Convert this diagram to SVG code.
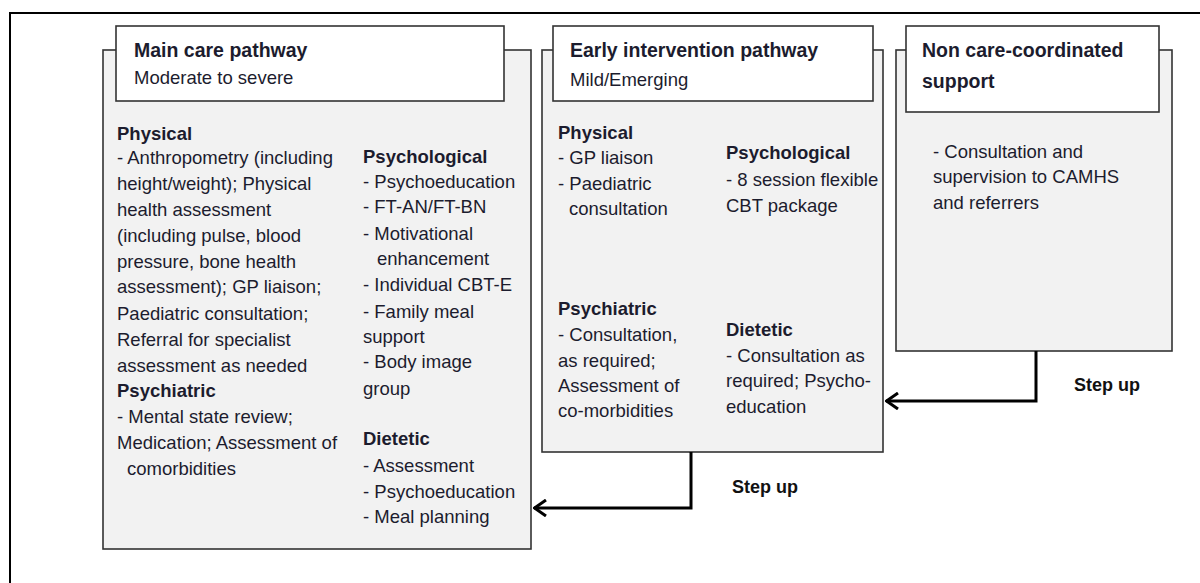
<svg xmlns="http://www.w3.org/2000/svg" width="1200" height="583" viewBox="0 0 1200 583">
<defs>
<style>
.frame{fill:none;stroke:#000;stroke-width:2}
.box{fill:#f2f2f2;stroke:#333;stroke-width:1.6}
.title{fill:#fff;stroke:#333;stroke-width:1.6}
text{font-family:"Liberation Sans",Arial,sans-serif;font-size:18.5px;fill:#1c1c2e}
.b{font-weight:bold}
.t{font-weight:bold;font-size:19.5px}
.s{font-weight:bold;font-size:18px;fill:#111}
.conn{fill:none;stroke:#000;stroke-width:3}
</style>
<marker id="arr" viewBox="0 0 14 18" refX="13" refY="9" markerWidth="14" markerHeight="18" markerUnits="userSpaceOnUse" orient="auto">
<path d="M1,1 L12.5,9 L1,17" fill="none" stroke="#000" stroke-width="3"/>
</marker>
</defs>
<rect width="1200" height="583" fill="#fff"/>
<rect class="frame" x="10" y="13" width="1220" height="600"/>

<g id="main">
<rect class="box" x="103" y="50" width="428" height="499"/>
<rect class="title" x="116" y="26" width="388" height="75"/>
<text class="t" x="134" y="57">Main care pathway</text>
<text x="134" y="84">Moderate to severe</text>
<text class="b" x="117" y="140">Physical</text>
<text x="117" y="164">- Anthropometry (including</text>
<text x="117" y="190">height/weight); Physical</text>
<text x="117" y="216">health assessment</text>
<text x="117" y="242">(including pulse, blood</text>
<text x="117" y="268">pressure, bone health</text>
<text x="117" y="293">assessment); GP liaison;</text>
<text x="117" y="320">Paediatric consultation;</text>
<text x="117" y="346">Referral for specialist</text>
<text x="117" y="372">assessment as needed</text>
<text class="b" x="117" y="397">Psychiatric</text>
<text x="117" y="423">- Mental state review;</text>
<text x="117" y="449">Medication; Assessment of</text>
<text x="127" y="475">comorbidities</text>
<text class="b" x="363" y="163">Psychological</text>
<text x="363" y="188">- Psychoeducation</text>
<text x="363" y="213">- FT-AN/FT-BN</text>
<text x="363" y="240">- Motivational</text>
<text x="377" y="265">enhancement</text>
<text x="363" y="291">- Individual CBT-E</text>
<text x="363" y="318">- Family meal</text>
<text x="363" y="343">support</text>
<text x="363" y="368">- Body image</text>
<text x="363" y="395">group</text>
<text class="b" x="363" y="445">Dietetic</text>
<text x="363" y="472">- Assessment</text>
<text x="363" y="498">- Psychoeducation</text>
<text x="363" y="523">- Meal planning</text>
</g>

<g id="early">
<rect class="box" x="542" y="50" width="341" height="402"/>
<rect class="title" x="553" y="26" width="320" height="75"/>
<text class="t" x="570" y="57">Early intervention pathway</text>
<text x="570" y="86">Mild/Emerging</text>
<text class="b" x="558" y="139">Physical</text>
<text x="558" y="164">- GP liaison</text>
<text x="558" y="190">- Paediatric</text>
<text x="569" y="215">consultation</text>
<text class="b" x="726" y="159">Psychological</text>
<text x="726" y="186">- 8 session flexible</text>
<text x="726" y="212">CBT package</text>
<text class="b" x="558" y="315">Psychiatric</text>
<text x="558" y="341">- Consultation,</text>
<text x="558" y="367">as required;</text>
<text x="558" y="392">Assessment of</text>
<text x="558" y="417">co-morbidities</text>
<text class="b" x="726" y="336">Dietetic</text>
<text x="726" y="362">- Consultation as</text>
<text x="726" y="387">required; Psycho-</text>
<text x="726" y="413">education</text>
</g>

<g id="noncare">
<rect class="box" x="896" y="50" width="276" height="301"/>
<rect class="title" x="906" y="26" width="253" height="86"/>
<text class="t" x="922" y="57">Non care-coordinated</text>
<text class="t" x="922" y="88">support</text>
<text x="933" y="158">- Consultation and</text>
<text x="933" y="183">supervision to CAMHS</text>
<text x="933" y="209">and referrers</text>
</g>

<g id="connectors">
<path class="conn" d="M1036,351 V401 H886" marker-end="url(#arr)"/>
<path class="conn" d="M691,452 V508 H534" marker-end="url(#arr)"/>
<text class="s" x="1074" y="391">Step up</text>
<text class="s" x="732" y="493">Step up</text>
</g>
</svg>
